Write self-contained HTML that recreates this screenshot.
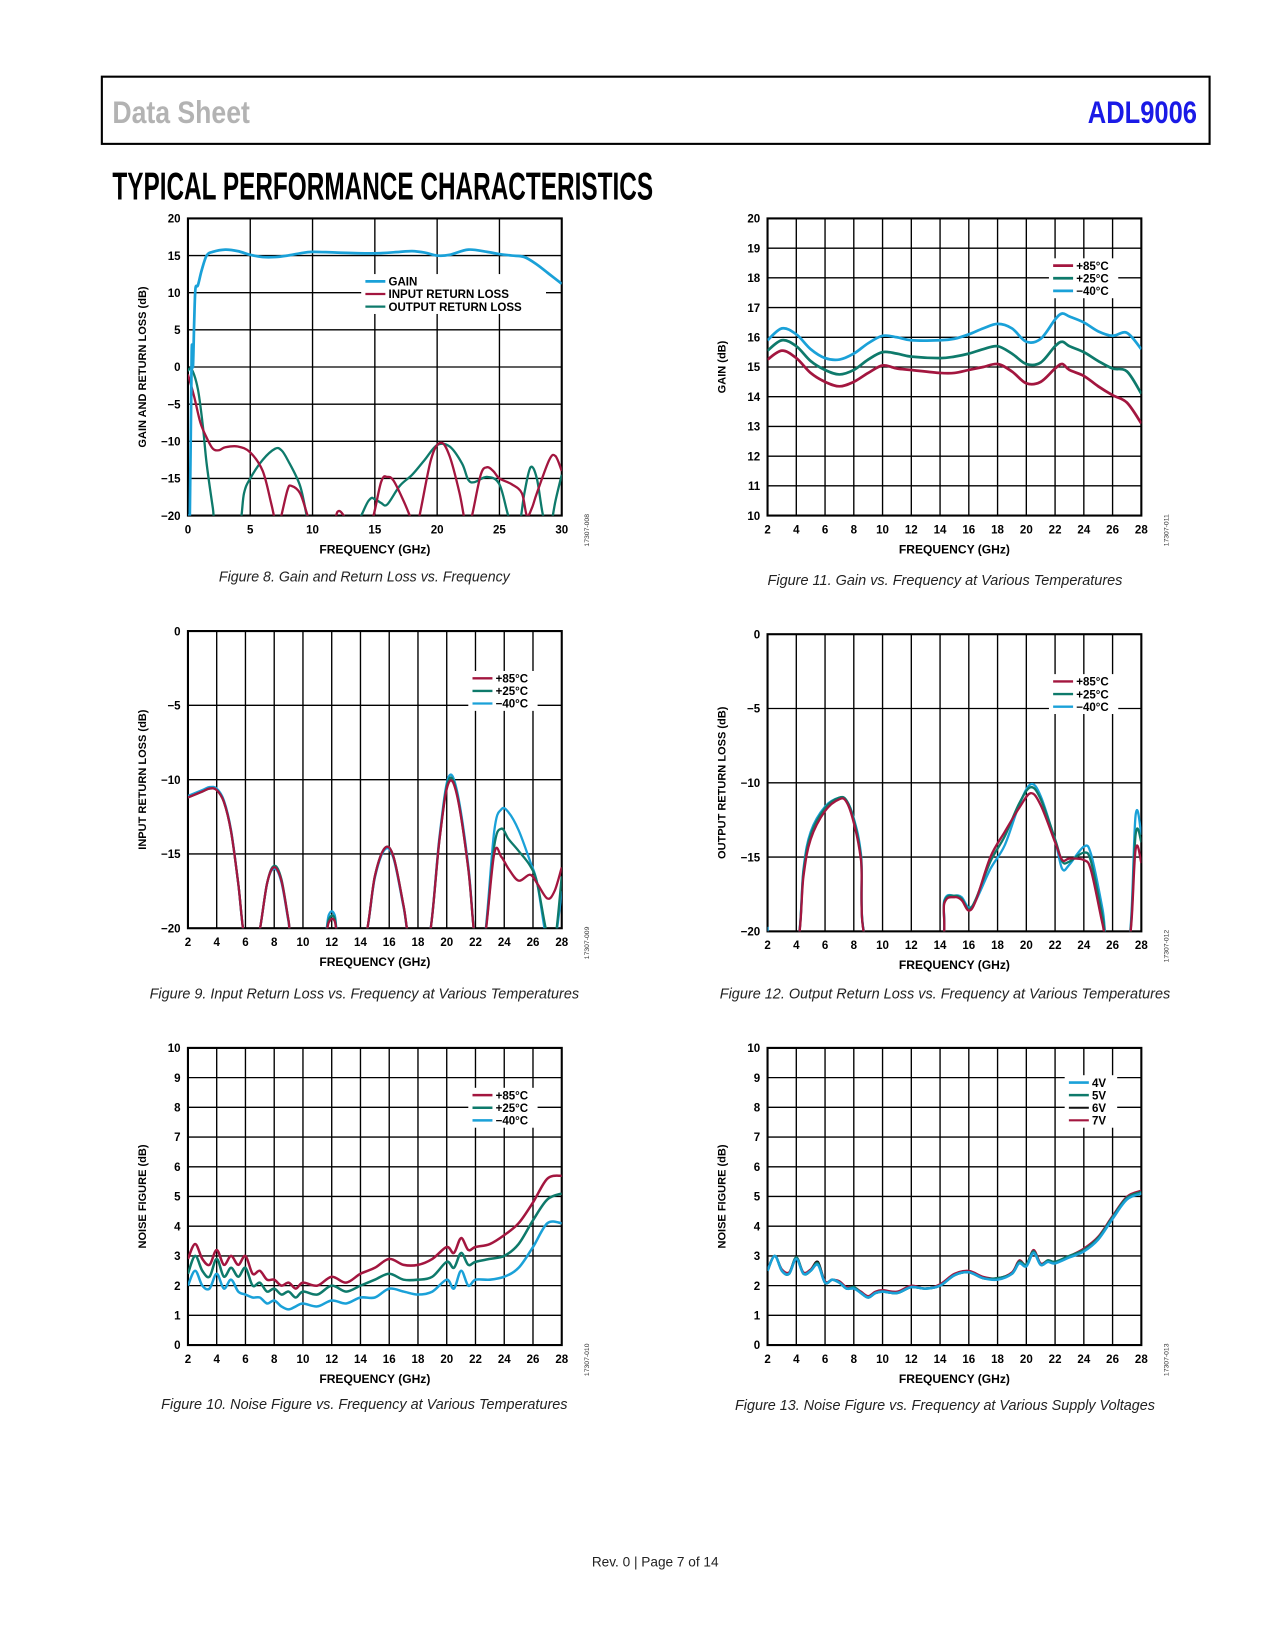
<!DOCTYPE html>
<html><head><meta charset="utf-8"><title>ADL9006 Typical Performance Characteristics</title>
<style>
html,body{margin:0;padding:0;background:#fff;}
body{width:1275px;height:1650px;overflow:hidden;}
#page{width:1275px;height:1650px;}
#svg{display:block;}
svg text{font-family:"Liberation Sans",Arial,sans-serif;}
</style></head>
<body>
<div id="page">
<svg id="svg" width="1275" height="1650" viewBox="0 0 1214.3 1571.4" xmlns="http://www.w3.org/2000/svg">
<rect x="97" y="73" width="1055" height="64" fill="none" stroke="#000" stroke-width="2"/>
<text x="107" y="117" font-size="30" font-weight="bold" fill="#b3b3b3" textLength="131" lengthAdjust="spacingAndGlyphs">Data Sheet</text>
<text x="1036" y="117" font-size="30" font-weight="bold" fill="#1a1ae6" textLength="104" lengthAdjust="spacingAndGlyphs">ADL9006</text>
<text x="107" y="190" font-size="37" font-weight="bold" fill="#000" textLength="515" lengthAdjust="spacingAndGlyphs">TYPICAL PERFORMANCE CHARACTERISTICS</text>
<text x="624" y="1492" font-size="13" text-anchor="middle" fill="#222">Rev. 0 | Page 7 of 14</text>
</svg>
</div>
<script>
// ---------- Data ----------
const X_TICKS_30 = [0,5,10,15,20,25,30];
const X_TICKS_28 = [2,4,6,8,10,12,14,16,18,20,22,24,26,28];
const Y_TICKS_GRL = [-20,-15,-10,-5,0,5,10,15,20];
const Y_TICKS_GAIN = [10,11,12,13,14,15,16,17,18,19,20];
const Y_TICKS_RL = [-20,-15,-10,-5,0];
const Y_TICKS_NF = [0,1,2,3,4,5,6,7,8,9,10];

// Figure 8
const F8_GAIN_X = [0,0.15,0.3,0.4,0.5,0.6,0.8,1.1,1.5,2,3,4,5,6,7,8,9,10,12,15,17,18,19,20,21,22.5,24,25,26,27,28,29,30];
const F8_GAIN_Y = [-20,-20,2,0,6,10.5,11,13,15,15.5,15.8,15.6,15.1,14.8,14.8,15,15.3,15.5,15.4,15.3,15.5,15.6,15.4,15.0,15.1,15.8,15.5,15.2,15.0,14.8,13.8,12.5,11.2];
const F8_IRL_X = [0,0.5,1,1.5,2,2.5,3,4,5,6,6.7,7.2,7.5,8,8.3,9,9.6,10,11.5,12,12.5,13,14.5,15.5,16,16.5,17.3,17.8,18.3,19.5,20.3,21,21.8,22.4,22.8,23.5,24,24.5,25,26,26.8,27.2,27.6,28,29,29.5,30];
const F8_IRL_Y = [-1,-4,-7.5,-9.5,-11,-11.2,-10.8,-10.7,-11.5,-14,-18.5,-22,-20,-16.5,-16,-17,-20,-22,-22,-19.5,-20,-22,-22,-15.5,-14.8,-15.3,-18,-20,-22,-12.5,-10.2,-12,-17,-22,-20,-14.5,-13.5,-14,-15,-15.8,-17,-20,-19,-17,-12.5,-12,-14];
const F8_ORL_X = [0,0.3,0.8,1.2,1.5,2,2.3,4,4.5,5,6,7,7.5,8,9,9.6,10,13,14.5,15,15.5,16,17,18,19,20,21,22,22.5,23,24,25,25.8,26.5,27,27.5,28,28.5,29,29.5,30];
const F8_ORL_Y = [-0.5,-0.3,-3,-8,-13,-19,-22,-22,-17,-15,-12.5,-11,-11.2,-12.5,-16,-20.5,-22,-22,-18,-17.8,-18.3,-18.5,-16,-14.5,-12.5,-10.5,-10.7,-13,-15.2,-15.5,-14.8,-15.8,-20.5,-22,-17,-13.5,-15,-20,-22,-18,-14.5];

// Figure 11 (gain vs temp)
const F11_X = [2,3,4,5,6,7,8,9,10,11,12,14,15,16,17,18,19,20,21,22,22.5,23,24,25,26,27,28];
const F11_M40 = [15.9,16.3,16.1,15.6,15.3,15.25,15.45,15.8,16.05,16.0,15.9,15.9,15.95,16.1,16.3,16.45,16.3,15.85,15.95,16.6,16.8,16.7,16.5,16.2,16.05,16.15,15.6];
const F11_P25 = [15.55,15.9,15.7,15.2,14.9,14.75,14.9,15.25,15.5,15.45,15.35,15.3,15.35,15.45,15.6,15.7,15.45,15.1,15.15,15.7,15.85,15.7,15.5,15.2,14.95,14.85,14.1];
const F11_P85 = [15.25,15.55,15.3,14.8,14.5,14.35,14.5,14.8,15.05,14.95,14.9,14.8,14.8,14.9,15.0,15.1,14.85,14.45,14.5,14.95,15.1,14.9,14.7,14.35,14.05,13.8,13.1];

// Figure 9 (input return loss vs temp)
const F9_X = [2,3,3.5,4,4.5,5,5.5,6,6.8,7.5,8,8.5,9,9.3,11.3,11.8,12.2,12.6,14.2,15,15.7,16.3,17,17.5,18.7,19.5,20.1,20.7,21.5,22,22.6,23.3,23.8,24.3,25,25.8,26.3,27,27.5,28];
const F9_P85 = [-11.2,-10.8,-10.6,-10.7,-11.5,-13.5,-17,-21,-21,-17,-15.9,-16.8,-19.5,-21,-21,-19.6,-19.5,-21,-21,-16.5,-14.6,-15.2,-18.5,-21,-21,-14,-10.3,-11,-16,-21,-21,-15,-15.2,-16,-16.8,-16.4,-17,-18,-17.5,-15.9];
const F9_P25 = [-11.2,-10.8,-10.6,-10.7,-11.5,-13.5,-17,-21,-21,-17,-15.8,-16.7,-19.5,-21,-21,-19.4,-19.3,-21,-21,-16.5,-14.6,-15.2,-18.5,-21,-21,-14,-10.1,-10.9,-16,-21,-21,-14.5,-13.3,-14,-14.8,-15.8,-17,-20.5,-21,-16.5];
const F9_M40 = [-11.1,-10.7,-10.5,-10.6,-11.4,-13.4,-17,-21,-21,-17,-16.0,-16.9,-19.6,-21,-21,-19.1,-19.1,-21,-21,-16.6,-14.7,-15.3,-18.6,-21,-21,-13.8,-9.9,-10.7,-15.8,-21,-21,-13.5,-12.0,-12.2,-13.4,-15.5,-17,-21,-21,-17.5];

// Figure 12 (output return loss vs temp)
const F12_X = [2,2.2,4,4.5,5,6,7,7.5,8,8.5,9.1,13.8,14.3,15,15.5,16,16.5,17.5,18.5,19.5,20.3,21,22,22.5,23,24,24.5,25.3,25.7,27.1,27.6,28];
const F12_P85 = [-20,-21,-21,-16.3,-13.8,-11.9,-11.1,-11.3,-12.7,-15.2,-21,-21,-18.1,-17.7,-17.9,-18.6,-17.9,-15,-13.3,-11.7,-10.7,-11.5,-14,-15.2,-15.1,-15.2,-15.9,-19.5,-21,-21,-14.5,-15.4];
const F12_P25 = [-20,-21,-21,-16,-13.5,-11.7,-11,-11.2,-12.5,-15,-21,-21,-18,-17.6,-17.8,-18.5,-17.8,-15.3,-13.6,-11.4,-10.3,-11.1,-13.8,-15.3,-15.3,-14.7,-15.3,-19,-21,-21,-13.5,-14];
const F12_M40 = [-19.7,-21,-21,-15.8,-13.3,-11.6,-11,-11.2,-12.4,-14.8,-21,-21,-17.9,-17.6,-17.7,-18.4,-17.9,-15.8,-14.2,-11.5,-10.1,-10.9,-13.9,-15.8,-15.5,-14.3,-14.8,-18.5,-21,-21,-12.2,-13.5];

// Figure 10 (noise figure vs temp)
const F10_X = [2,2.5,3,3.5,4,4.5,5,5.5,6,6.5,7,7.5,8,8.5,9,9.5,10,11,12,13,14,15,16,17,18,19,20,20.5,21,21.5,22,23,24,25,26,27,28];
const F10_P85 = [2.9,3.4,2.9,2.7,3.2,2.7,3.0,2.7,3.0,2.4,2.5,2.2,2.2,2.0,2.1,1.9,2.1,2.0,2.3,2.1,2.4,2.6,2.9,2.7,2.7,2.9,3.3,3.1,3.6,3.2,3.3,3.4,3.7,4.1,4.8,5.6,5.7];
const F10_P25 = [2.4,3.0,2.5,2.3,2.9,2.3,2.6,2.3,2.6,2.0,2.1,1.8,1.9,1.7,1.8,1.6,1.8,1.7,2.0,1.8,2.0,2.2,2.4,2.2,2.2,2.3,2.8,2.6,3.1,2.7,2.8,2.9,3.0,3.4,4.2,4.9,5.1];
const F10_M40 = [2.0,2.5,2.0,1.9,2.4,1.9,2.2,1.8,1.7,1.6,1.6,1.4,1.5,1.3,1.2,1.3,1.4,1.3,1.5,1.4,1.6,1.6,1.9,1.8,1.7,1.8,2.2,1.9,2.5,2.0,2.2,2.2,2.3,2.6,3.3,4.1,4.1];

// Figure 13 (noise figure vs supply)
const F13_X = [2,2.5,3,3.5,4,4.5,5,5.5,6,6.5,7,7.5,8,8.5,9,9.5,10,11,12,13,14,15,16,17,18,19,19.5,20,20.5,21,21.5,22,23,24,25,26,27,28];
const F13_4V = [2.5,3.0,2.5,2.4,2.9,2.4,2.5,2.7,2.1,2.2,2.1,1.9,1.9,1.75,1.6,1.75,1.8,1.75,1.95,1.9,2.0,2.35,2.45,2.25,2.2,2.4,2.75,2.65,3.1,2.7,2.8,2.75,2.95,3.15,3.55,4.25,4.9,5.1];
const F13_5V = [2.5,3.0,2.5,2.4,2.95,2.4,2.5,2.75,2.1,2.2,2.1,1.9,1.95,1.75,1.6,1.75,1.8,1.75,1.95,1.9,2.0,2.35,2.45,2.25,2.25,2.4,2.8,2.7,3.15,2.7,2.85,2.8,3.0,3.2,3.6,4.3,4.95,5.15];
const F13_6V = [2.5,3.0,2.5,2.4,2.95,2.4,2.5,2.8,2.1,2.2,2.1,1.9,1.95,1.75,1.6,1.75,1.8,1.75,1.95,1.9,2.0,2.35,2.45,2.25,2.25,2.4,2.8,2.7,3.15,2.7,2.85,2.8,3.0,3.2,3.6,4.3,4.95,5.15];
const F13_7V = [2.55,3.0,2.55,2.45,2.95,2.45,2.55,2.8,2.15,2.2,2.15,1.95,1.95,1.8,1.65,1.8,1.85,1.8,2.0,1.9,2.05,2.4,2.5,2.3,2.25,2.45,2.85,2.7,3.2,2.75,2.85,2.8,3.0,3.25,3.65,4.35,5.0,5.2];

const RED = "#a3163f", TEAL = "#0e7a6b", BLUE = "#1aa1d8";

// ---------- Rendering ----------
const NS = "http://www.w3.org/2000/svg";
const svg = document.getElementById("svg");
function el(tag, parent){ const e = document.createElementNS(NS, tag); parent.appendChild(e); return e; }
function pathD(xs, ys, sx, sy){
  const p = xs.map((x,i)=>[sx(x), sy(ys[i])]);
  let d = "M" + p[0][0].toFixed(2) + "," + p[0][1].toFixed(2);
  for (let i=0;i<p.length-1;i++){
    const p0 = p[i-1]||p[i], p1=p[i], p2=p[i+1], p3=p[i+2]||p[i+1];
    const c1x=p1[0]+(p2[0]-p0[0])/6, c1y=p1[1]+(p2[1]-p0[1])/6;
    const c2x=p2[0]-(p3[0]-p1[0])/6, c2y=p2[1]-(p3[1]-p1[1])/6;
    d += "C"+c1x.toFixed(2)+","+c1y.toFixed(2)+" "+c2x.toFixed(2)+","+c2y.toFixed(2)+" "+p2[0].toFixed(2)+","+p2[1].toFixed(2);
  }
  return d;
}
function fmt(v){ return v<0 ? "\u2212"+Math.abs(v) : String(v); }
let clipId = 0;
function drawChart(o){
  const g = el("g", svg);
  
  
  const sx = v => o.l + (v-o.x0)/(o.x1-o.x0)*(o.r-o.l);
  const sy = v => o.b - (v-o.y0)/(o.y1-o.y0)*(o.b-o.t);
  const grid = el("g", g);
  
  
  o.xt.forEach(v=>{ const ln=el("line",grid); ln.setAttribute("x1",sx(v)); ln.setAttribute("x2",sx(v)); ln.setAttribute("y1",o.t); ln.setAttribute("y2",o.b); ln.setAttribute("stroke","#000"); ln.setAttribute("stroke-width","1.3");
    
     });
  o.yt.forEach(v=>{ const ln=el("line",grid); ln.setAttribute("x1",o.l); ln.setAttribute("x2",o.r); ln.setAttribute("y1",sy(v)); ln.setAttribute("y2",sy(v)); ln.setAttribute("stroke","#000"); ln.setAttribute("stroke-width","1.3");
    
     });
  o.xt.forEach(v=>{ const t=el("text",g); t.setAttribute("x",sx(v)); t.setAttribute("y",o.b+17); t.setAttribute("font-size","11"); t.setAttribute("font-weight","bold"); t.setAttribute("text-anchor","middle"); t.textContent=fmt(v);
    
     });
  o.yt.forEach(v=>{ const t=el("text",g); t.setAttribute("x",o.l-7); t.setAttribute("y",sy(v)+4); t.setAttribute("font-size","11"); t.setAttribute("font-weight","bold"); t.setAttribute("text-anchor","end"); t.textContent=fmt(v);
    
     });
  const xtT = el("text", g);
  
  
  xtT.setAttribute("x",(o.l+o.r)/2); xtT.setAttribute("y",o.b+36); xtT.setAttribute("font-size","11.5"); xtT.setAttribute("font-weight","bold"); xtT.setAttribute("text-anchor","middle"); xtT.textContent="FREQUENCY (GHz)";
  const ytT = el("text", g);
  
  
  const yx = o.l-40, yy=(o.t+o.b)/2;
  ytT.setAttribute("x",yx); ytT.setAttribute("y",yy); ytT.setAttribute("transform","rotate(-90 "+yx+" "+yy+")"); ytT.setAttribute("font-size","10.5"); ytT.setAttribute("font-weight","bold"); ytT.setAttribute("text-anchor","middle"); ytT.textContent=o.ytitle;
  const cd = el("text", g);
  
  
  const cx=o.r+26, cy=o.b+14;
  cd.setAttribute("x",cx); cd.setAttribute("y",cy); cd.setAttribute("transform","rotate(-90 "+cx+" "+cy+")"); cd.setAttribute("font-size","6.5"); cd.setAttribute("text-anchor","middle"); cd.setAttribute("fill","#333"); cd.textContent=o.code;
  const cap = el("text", g);
  
  
  cap.setAttribute("x",o.capX); cap.setAttribute("y",o.capY); cap.setAttribute("font-size","14"); cap.setAttribute("font-style","italic"); cap.setAttribute("text-anchor","middle"); cap.setAttribute("fill","#222"); cap.setAttribute("textLength",o.capW); cap.setAttribute("lengthAdjust","spacingAndGlyphs"); cap.textContent=o.caption;
  const lg = el("g", g);
  
  
  const bg = el("rect", lg);
  bg.setAttribute("x",o.leg.x-4); bg.setAttribute("y",o.leg.y-7); bg.setAttribute("width",o.leg.w); bg.setAttribute("height",o.series.length*12+2); bg.setAttribute("fill","#fff");
  o.series.forEach((s,i)=>{
    const ly=o.leg.y+i*12;
    const ln=el("line",lg); ln.setAttribute("x1",o.leg.x); ln.setAttribute("x2",o.leg.x+19); ln.setAttribute("y1",ly); ln.setAttribute("y2",ly); ln.setAttribute("stroke",s.c); ln.setAttribute("stroke-width",s.lw||2);
    
    
    const t=el("text",lg); t.setAttribute("x",o.leg.x+22); t.setAttribute("y",ly+4); t.setAttribute("font-size","11"); t.setAttribute("font-weight","bold"); t.textContent=s.label;
    
    
  });
  const fr = el("rect", g);
  
  
  fr.setAttribute("x",o.l); fr.setAttribute("y",o.t); fr.setAttribute("width",o.r-o.l); fr.setAttribute("height",o.b-o.t); fr.setAttribute("fill","none"); fr.setAttribute("stroke","#000"); fr.setAttribute("stroke-width","2");
  const cid = "clip"+(clipId++);
  const cp = el("clipPath", g); cp.setAttribute("id",cid);
  const cr = el("rect", cp); cr.setAttribute("x",o.l); cr.setAttribute("y",o.t); cr.setAttribute("width",o.r-o.l); cr.setAttribute("height",o.b-o.t);
  const sg = el("g", g); sg.setAttribute("clip-path","url(#"+cid+")");
  
  
  o.series.slice().reverse().forEach(s=>{
    const p = el("path", sg);
    
    
    p.setAttribute("d", pathD(s.x, s.y, sx, sy)); p.setAttribute("fill","none"); p.setAttribute("stroke",s.c); p.setAttribute("stroke-width",s.lw||2); p.setAttribute("stroke-linejoin","round");
  });
}

drawChart({name:"figure-8-chart", l:179,t:208,r:535,b:491, x0:0,x1:30,y0:-20,y1:20, xt:X_TICKS_30, yt:Y_TICKS_GRL,
  ytitle:"GAIN AND RETURN LOSS (dB)", code:"17307-008", caption:"Figure 8. Gain and Return Loss vs. Frequency", capX:347, capY:554, capW:277,
  leg:{x:348,y:268,w:176},
  series:[{name:"gain-line",label:"GAIN",x:F8_GAIN_X,y:F8_GAIN_Y,c:BLUE,lw:2.6},
          {name:"input-return-loss-line",label:"INPUT RETURN LOSS",x:F8_IRL_X,y:F8_IRL_Y,c:RED,lw:2.2},
          {name:"output-return-loss-line",label:"OUTPUT RETURN LOSS",x:F8_ORL_X,y:F8_ORL_Y,c:TEAL,lw:2.2}]});

drawChart({name:"figure-11-chart", l:731,t:208,r:1087,b:491, x0:2,x1:28,y0:10,y1:20, xt:X_TICKS_28, yt:Y_TICKS_GAIN,
  ytitle:"GAIN (dB)", code:"17307-011", caption:"Figure 11. Gain vs. Frequency at Various Temperatures", capX:900, capY:557, capW:338,
  leg:{x:1003,y:253,w:66},
  series:[{name:"gain-85c-line",label:"+85\u00B0C",x:F11_X,y:F11_P85,c:RED,lw:2.6},
          {name:"gain-25c-line",label:"+25\u00B0C",x:F11_X,y:F11_P25,c:TEAL,lw:2.6},
          {name:"gain-minus40c-line",label:"\u221240\u00B0C",x:F11_X,y:F11_M40,c:BLUE,lw:2.6}]});

drawChart({name:"figure-9-chart", l:179,t:601,r:535,b:884, x0:2,x1:28,y0:-20,y1:0, xt:X_TICKS_28, yt:Y_TICKS_RL,
  ytitle:"INPUT RETURN LOSS (dB)", code:"17307-009", caption:"Figure 9. Input Return Loss vs. Frequency at Various Temperatures", capX:347, capY:951, capW:409,
  leg:{x:450,y:646,w:66},
  series:[{name:"irl-85c-line",label:"+85\u00B0C",x:F9_X,y:F9_P85,c:RED,lw:2.2},
          {name:"irl-25c-line",label:"+25\u00B0C",x:F9_X,y:F9_P25,c:TEAL,lw:2.2},
          {name:"irl-minus40c-line",label:"\u221240\u00B0C",x:F9_X,y:F9_M40,c:BLUE,lw:2.2}]});

drawChart({name:"figure-12-chart", l:731,t:604,r:1087,b:887, x0:2,x1:28,y0:-20,y1:0, xt:X_TICKS_28, yt:Y_TICKS_RL,
  ytitle:"OUTPUT RETURN LOSS (dB)", code:"17307-012", caption:"Figure 12. Output Return Loss vs. Frequency at Various Temperatures", capX:900, capY:951, capW:429,
  leg:{x:1003,y:649,w:66},
  series:[{name:"orl-85c-line",label:"+85\u00B0C",x:F12_X,y:F12_P85,c:RED,lw:2.2},
          {name:"orl-25c-line",label:"+25\u00B0C",x:F12_X,y:F12_P25,c:TEAL,lw:2.2},
          {name:"orl-minus40c-line",label:"\u221240\u00B0C",x:F12_X,y:F12_M40,c:BLUE,lw:2.2}]});

drawChart({name:"figure-10-chart", l:179,t:998,r:535,b:1281, x0:2,x1:28,y0:0,y1:10, xt:X_TICKS_28, yt:Y_TICKS_NF,
  ytitle:"NOISE FIGURE (dB)", code:"17307-010", caption:"Figure 10. Noise Figure vs. Frequency at Various Temperatures", capX:347, capY:1342, capW:387,
  leg:{x:450,y:1043,w:66},
  series:[{name:"nf-85c-line",label:"+85\u00B0C",x:F10_X,y:F10_P85,c:RED,lw:2.4},
          {name:"nf-25c-line",label:"+25\u00B0C",x:F10_X,y:F10_P25,c:TEAL,lw:2.4},
          {name:"nf-minus40c-line",label:"\u221240\u00B0C",x:F10_X,y:F10_M40,c:BLUE,lw:2.4}]});

drawChart({name:"figure-13-chart", l:731,t:998,r:1087,b:1281, x0:2,x1:28,y0:0,y1:10, xt:X_TICKS_28, yt:Y_TICKS_NF,
  ytitle:"NOISE FIGURE (dB)", code:"17307-013", caption:"Figure 13. Noise Figure vs. Frequency at Various Supply Voltages", capX:900, capY:1343, capW:400,
  leg:{x:1018,y:1031,w:50},
  series:[{name:"nf-4v-line",label:"4V",x:F13_X,y:F13_4V,c:BLUE,lw:2.4},
          {name:"nf-5v-line",label:"5V",x:F13_X,y:F13_5V,c:TEAL,lw:2.4},
          {name:"nf-6v-line",label:"6V",x:F13_X,y:F13_6V,c:"#111",lw:2},
          {name:"nf-7v-line",label:"7V",x:F13_X,y:F13_7V,c:RED,lw:2}]});
</script>
</body></html>
